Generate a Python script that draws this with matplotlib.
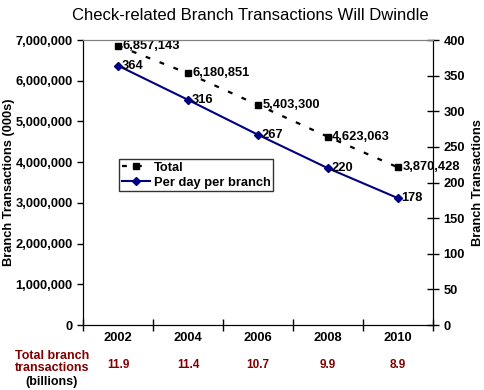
import matplotlib.pyplot as plt
from matplotlib.ticker import FuncFormatter

plt.rcParams['font.family'] = ['Liberation Sans', 'DejaVu Sans']

years = ["2002", "2004", "2006", "2008", "2010"]
total = [6857143, 6180851, 5403300, 4623063, 3870428]
per_day = [364, 316, 267, 220, 178]
billions = ["11.9", "11.4", "10.7", "9.9", "8.9"]

fig = plt.figure(figsize=(4.85, 3.9), dpi=100)
ax = fig.add_axes([83 / 485, 1 - 325 / 390, 350 / 485, 285 / 390])
ax2 = ax.twinx()

x = list(range(len(years)))

l1, = ax.plot(x, total, color='black', linestyle=(0, (2.2, 4.5)), lw=1.6,
              marker='s', markersize=5, label='Total')
l2, = ax2.plot(x, per_day, color='#000080', lw=1.5,
               marker='D', markersize=4.5, label='Per day per branch')

for xi, v in zip(x, total):
    ax.text(xi + 0.06, v, f"{v:,}", fontsize=9.3, fontweight='bold',
            va='center', ha='left')
for xi, v in zip(x, per_day):
    ax2.text(xi + 0.05, v, f"{v}", fontsize=9.3, fontweight='bold',
             va='center', ha='left')

ax.set_xlim(-0.5, 4.5)
ax.set_ylim(0, 7000000)
ax2.set_ylim(0, 400)
ax.set_yticks(range(0, 7000001, 1000000))
ax2.set_yticks(range(0, 401, 50))
ax.yaxis.set_major_formatter(FuncFormatter(lambda v, p: f"{int(v):,}"))

ax.set_xticks([i - 0.5 for i in range(6)])
ax.set_xticklabels([])
ax.set_xticks(x, minor=True)
ax.set_xticklabels(years, minor=True, fontsize=9.3, fontweight='bold')
ax.tick_params(axis='x', which='major', direction='inout', length=8, width=1)
ax.tick_params(axis='x', which='minor', length=0, pad=5)
ax.tick_params(axis='y', direction='out', length=4, width=1, labelsize=9.3)
ax2.tick_params(axis='y', direction='inout', length=8, width=1, labelsize=9.3)
for lbl in ax.get_yticklabels() + ax2.get_yticklabels():
    lbl.set_fontweight('bold')

for a in (ax, ax2):
    a.spines['top'].set_color('#808080')
    a.spines['left'].set_color('black')
    a.spines['right'].set_color('black')
    a.spines['bottom'].set_color('black')

ax.set_ylabel("Branch Transactions (000s)", fontsize=9.3, fontweight='bold')
ax.yaxis.set_label_coords((15 - 83) / 350, 0.5)
ax2.set_ylabel("Branch Transactions", fontsize=9.3, fontweight='bold', labelpad=5)

fig.suptitle("Check-related Branch Transactions Will Dwindle", fontsize=12,
             x=250 / 485, y=1 - 15 / 390, va='center')

leg = ax2.legend(handles=[l1, l2], loc='upper left',
                 bbox_to_anchor=((119 - 83) / 350, (325 - 159) / 285),
                 frameon=True, fancybox=False, edgecolor='black',
                 prop={'weight': 'bold', 'size': 9.3}, handlelength=2.2,
                 borderpad=0.2, labelspacing=0.25, handletextpad=0.3,
                 borderaxespad=0)
leg.get_frame().set_linewidth(1.0)

fig.text(52 / 485, 1 - 362 / 390, "Total branch\ntransactions", color='#800000',
         fontsize=9, fontweight='bold', ha='center', va='center', linespacing=1.05)
fig.text(52 / 485, 1 - 382 / 390, "(billions)", color='black',
         fontsize=9, fontweight='bold', ha='center', va='center')
for xi, b in zip(x, billions):
    ax.annotate(b, xy=(xi, 0), xycoords=('data', 'axes fraction'),
                xytext=(0, -29), textcoords='offset points',
                ha='center', va='center', color='#800000',
                fontsize=8.5, fontweight='bold')

fig.savefig("out.png", dpi=100)
